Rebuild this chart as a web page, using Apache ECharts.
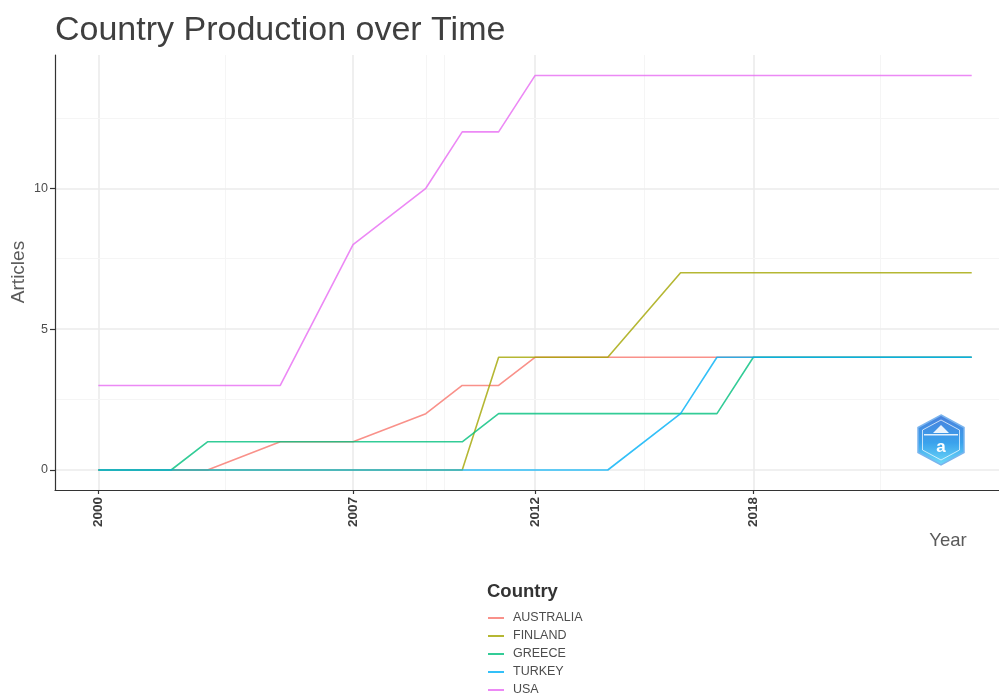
<!DOCTYPE html>
<html>
<head>
<meta charset="utf-8">
<script src="https://cdn.jsdelivr.net/npm/echarts@6/dist/echarts.min.js"></script>
<style>
html,body{margin:0;padding:0;background:#fff;}
#main{width:999px;height:694px;}
</style>
</head>
<body>
<div id="main"></div>
<script>
// ---- data ----
const years = [2000, 2002, 2003, 2005, 2007, 2009, 2010, 2011, 2012, 2014, 2016, 2017, 2018, 2024];
const countries = ['AUSTRALIA', 'FINLAND', 'GREECE', 'TURKEY', 'USA'];
const australia = [0, 0, 0, 1, 1, 2, 3, 3, 4, 4, 4, 4, 4, 4];
const finland   = [0, 0, 0, 0, 0, 0, 0, 4, 4, 4, 7, 7, 7, 7];
const greece    = [0, 0, 1, 1, 1, 1, 1, 2, 2, 2, 2, 2, 4, 4];
const turkey    = [0, 0, 0, 0, 0, 0, 0, 0, 0, 0, 2, 4, 4, 4];
const usa       = [3, 3, 3, 3, 8, 10, 12, 12, 14, 14, 14, 14, 14, 14];
const xTicks = [2000, 2007, 2012, 2018];
const xMinor = [2003.5, 2009, 2009.5, 2015, 2021.5];
const yTicks = [0, 5, 10];
const yMinor = [2.5, 7.5, 12.5];

const seriesValues = [australia, finland, greece, turkey, usa];
const colors = ['#F8766D', '#A3A500', '#00BF7D', '#00B0F6', '#E76BF3'];

const chart = echarts.init(document.getElementById('main'), null, {renderer: 'canvas'});

const solid = (c, w) => ({color: c, width: w, type: 'solid'});
const gridLines = [];
xTicks.forEach(v => gridLines.push({xAxis: v, lineStyle: solid('#ebebeb', 1.6)}));
xMinor.forEach(v => gridLines.push({xAxis: v, lineStyle: solid('#f5f5f5', 1)}));
yTicks.forEach(v => gridLines.push({yAxis: v, lineStyle: solid('#ebebeb', 1.6)}));
yMinor.forEach(v => gridLines.push({yAxis: v, lineStyle: solid('#f5f5f5', 1)}));

const series = [{
  type: 'line', name: '_grid', data: [], z: 0, silent: true,
  markLine: {silent: true, z: 0, symbol: 'none', label: {show: false}, animation: false,
    lineStyle: {type: 'solid'}, emphasis: {disabled: true}, data: gridLines}
}];
countries.forEach((c, i) => {
  series.push({
    type: 'line', name: c, z: 10 + i,
    data: years.map((y, j) => [y, seriesValues[i][j]]),
    showSymbol: false, symbol: 'none',
    lineStyle: {color: colors[i], width: 1.6, opacity: 0.8},
    itemStyle: {color: colors[i], opacity: 0.8},
    animation: false
  });
});

const font = 'Liberation Sans, Arial, Helvetica, sans-serif';

chart.setOption({
  animation: false,
  backgroundColor: '#fff',
  grid: {left: 55, right: 0, top: 55, bottom: 204, containLabel: false},
  xAxis: {
    type: 'value', min: 1998.81, max: 2024.75, z: 20,
    axisLine: {show: true, onZero: false, lineStyle: {color: '#333', width: 1.2}},
    axisTick: {show: true, customValues: xTicks, length: 4, lineStyle: {color: '#333', width: 1.2}},
    axisLabel: {show: true, customValues: xTicks, rotate: 90, fontSize: 13.5, fontWeight: 'bold',
      color: '#3d3d3d', fontFamily: font, margin: 7, formatter: v => String(v)},
    splitLine: {show: false}
  },
  yAxis: {
    type: 'value', min: -0.71, max: 14.73, z: 20,
    axisLine: {show: true, onZero: false, lineStyle: {color: '#333', width: 1.2}},
    axisTick: {show: true, customValues: yTicks, length: 5, lineStyle: {color: '#333', width: 1.2}},
    axisLabel: {show: true, customValues: yTicks, fontSize: 12.5, color: '#4d4d4d', fontFamily: font, margin: 7},
    splitLine: {show: false}
  },
  legend: {
    data: countries,
    orient: 'vertical', left: 483, top: 606, height: 120,
    icon: 'rect', itemWidth: 16, itemHeight: 2, itemGap: 4,
    textStyle: {fontSize: 12.5, color: '#4d4d4d', fontFamily: font, lineHeight: 14, padding: [0, 0, 0, 4]}
  },
  graphic: [
    {type: 'text', x: 55, y: 31, style: {text: 'Country Production over Time', fontSize: 34, fill: '#3f3f3f', fontFamily: font, verticalAlign: 'middle'}},
    {type: 'text', x: 948, y: 541, style: {text: 'Year', fontSize: 18.5, fill: '#5a5a5a', fontFamily: font, align: 'center', verticalAlign: 'middle'}},
    {type: 'text', x: 19, y: 272, rotation: Math.PI / 2, style: {text: 'Articles', fontSize: 19, fill: '#5a5a5a', fontFamily: font, align: 'center', verticalAlign: 'middle'}},
    {type: 'text', x: 487, y: 592, style: {text: 'Country', fontSize: 18.5, fontWeight: 'bold', fill: '#333', fontFamily: font, align: 'left', verticalAlign: 'middle'}},
    // logo
    {type: 'group', x: 941, y: 440, children: [
      {type: 'polygon', shape: {points: [[0, -25], [23, -12.5], [23, 12.5], [0, 25], [-23, 12.5], [-23, -12.5]]},
        style: {fill: new echarts.graphic.LinearGradient(0, 0, 0, 1, [{offset: 0, color: '#4a7fdc'}, {offset: 0.55, color: '#3aa2ec'}, {offset: 1, color: '#6fdcf8'}]), stroke: '#7ab4ee', lineWidth: 1.5}},
      {type: 'polygon', shape: {points: [[0, -20], [18.5, -10], [18.5, 10], [0, 20], [-18.5, 10], [-18.5, -10]]},
        style: {fill: 'none', stroke: 'rgba(255,255,255,0.7)', lineWidth: 1}},
      {type: 'polygon', shape: {points: [[0, -15], [8, -7], [-8, -7]]}, style: {fill: 'rgba(255,255,255,0.9)'}},
      {type: 'rect', shape: {x: -17, y: -6, width: 34, height: 1.5}, style: {fill: 'rgba(255,255,255,0.85)'}},
      {type: 'text', x: 0, y: 7, style: {text: 'a', fontSize: 17, fontWeight: 'bold', fill: '#ffffff', align: 'center', verticalAlign: 'middle', fontFamily: font}}
    ]}
  ],
  series: series
});
</script>
</body>
</html>
